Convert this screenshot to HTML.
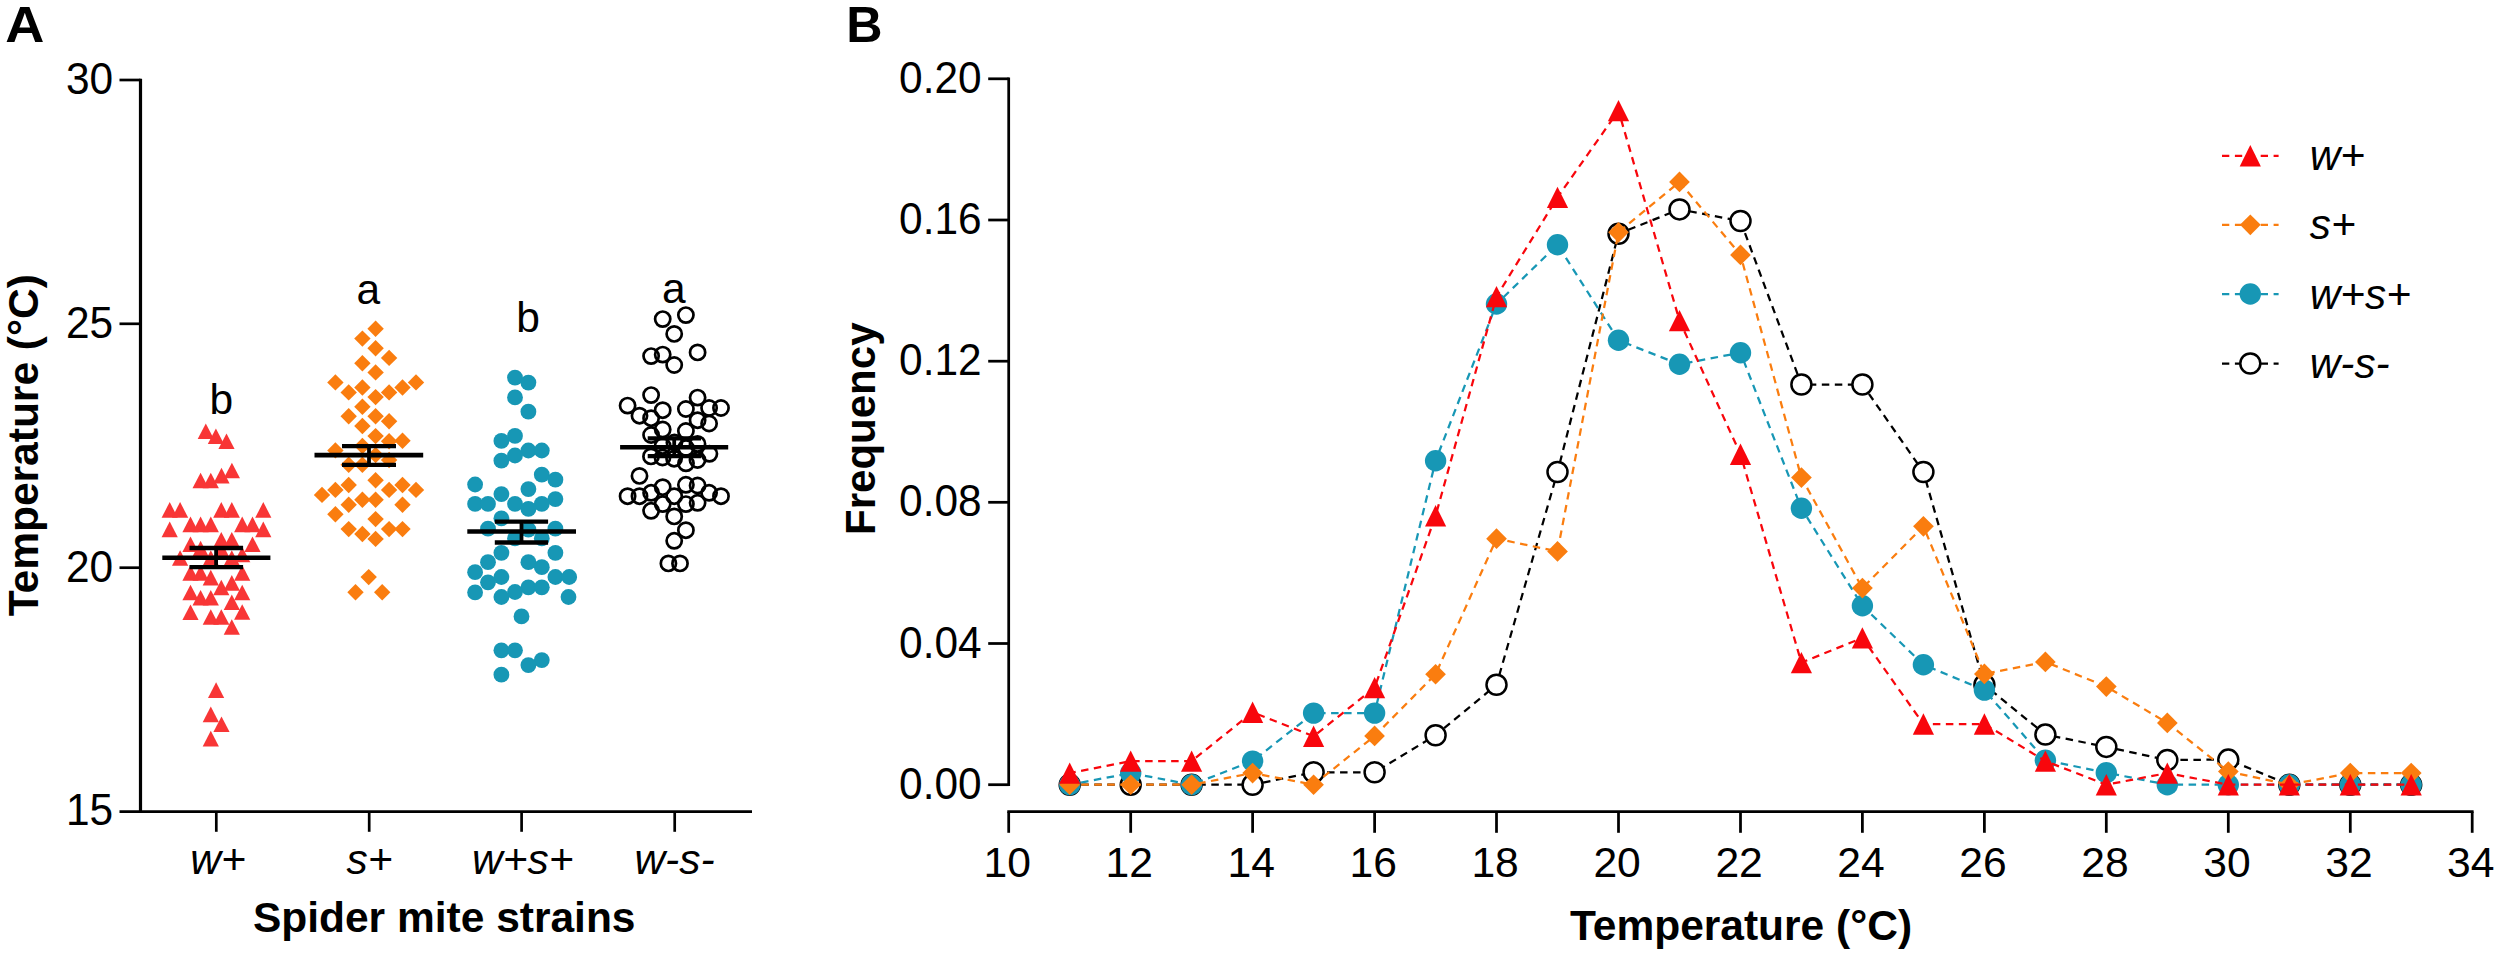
<!DOCTYPE html>
<html lang="en"><head><meta charset="utf-8"><title>Figure</title>
<style>html,body{margin:0;padding:0;background:#fff}svg{display:block}</style></head>
<body>
<svg width="2500" height="957" viewBox="0 0 2500 957" font-family='"Liberation Sans", sans-serif' fill="#000">
<rect width="2500" height="957" fill="#fff"/>
<g id="panelA">
<text x="5.2" y="42.3" font-size="50.6" font-weight="bold" textLength="39.1" lengthAdjust="spacingAndGlyphs">A</text>
<line x1="140.5" y1="78.7" x2="140.5" y2="813.1" stroke="#000" stroke-width="3.20" />
<line x1="119.5" y1="811.7" x2="752.0" y2="811.7" stroke="#000" stroke-width="2.80" />
<line x1="119.5" y1="80.0" x2="140.5" y2="80.0" stroke="#000" stroke-width="2.70" />
<line x1="119.5" y1="323.8" x2="140.5" y2="323.8" stroke="#000" stroke-width="2.70" />
<line x1="119.5" y1="567.7" x2="140.5" y2="567.7" stroke="#000" stroke-width="2.70" />
<text x="113.2" y="93.7" font-size="43.5" text-anchor="end" textLength="47.2" lengthAdjust="spacingAndGlyphs">30</text>
<text x="113.2" y="337.6" font-size="43.5" text-anchor="end" textLength="47.2" lengthAdjust="spacingAndGlyphs">25</text>
<text x="113.2" y="581.6" font-size="43.5" text-anchor="end" textLength="47.2" lengthAdjust="spacingAndGlyphs">20</text>
<text x="113.2" y="824.9" font-size="43.5" text-anchor="end" textLength="47.2" lengthAdjust="spacingAndGlyphs">15</text>
<line x1="216.3" y1="811.7" x2="216.3" y2="831.8" stroke="#000" stroke-width="2.70" />
<line x1="369.2" y1="811.7" x2="369.2" y2="831.8" stroke="#000" stroke-width="2.70" />
<line x1="521.6" y1="811.7" x2="521.6" y2="831.8" stroke="#000" stroke-width="2.70" />
<line x1="674.7" y1="811.7" x2="674.7" y2="831.8" stroke="#000" stroke-width="2.70" />
<text x="218.0" y="874.2" font-size="42.5" font-weight="normal" font-style="italic" text-anchor="middle" >w+</text>
<text x="369.5" y="874.2" font-size="42.5" font-weight="normal" font-style="italic" text-anchor="middle" >s+</text>
<text x="522.8" y="874.2" font-size="42.5" font-weight="normal" font-style="italic" text-anchor="middle" >w+s+</text>
<text x="674.5" y="874.2" font-size="42.5" font-weight="normal" font-style="italic" text-anchor="middle" >w-s-</text>
<text x="444.2" y="932.0" font-size="42.5" font-weight="bold" font-style="normal" text-anchor="middle" >Spider mite strains</text>
<text transform="translate(37.5,445.2) rotate(-90)" font-size="42.5" font-weight="bold" text-anchor="middle">Temperature (°C)</text>
<g id="ptsA">
<polygon points="205.8,423.5 213.9,439.1 197.7,439.1" fill="#F83636"/>
<polygon points="215.9,428.5 224.0,444.1 207.8,444.1" fill="#F83636"/>
<polygon points="226.5,433.4 234.6,449.0 218.4,449.0" fill="#F83636"/>
<polygon points="200.6,472.7 208.7,488.3 192.5,488.3" fill="#F83636"/>
<polygon points="210.8,472.7 218.9,488.3 202.7,488.3" fill="#F83636"/>
<polygon points="221.5,467.8 229.6,483.4 213.4,483.4" fill="#F83636"/>
<polygon points="231.9,462.7 240.0,478.3 223.8,478.3" fill="#F83636"/>
<polygon points="169.7,502.1 177.8,517.7 161.6,517.7" fill="#F83636"/>
<polygon points="180.1,502.1 188.2,517.7 172.0,517.7" fill="#F83636"/>
<polygon points="221.3,502.1 229.4,517.7 213.2,517.7" fill="#F83636"/>
<polygon points="231.8,502.1 239.9,517.7 223.7,517.7" fill="#F83636"/>
<polygon points="263.3,502.1 271.4,517.7 255.2,517.7" fill="#F83636"/>
<polygon points="190.5,516.6 198.6,532.2 182.4,532.2" fill="#F83636"/>
<polygon points="200.6,516.6 208.7,532.2 192.5,532.2" fill="#F83636"/>
<polygon points="210.8,516.6 218.9,532.2 202.7,532.2" fill="#F83636"/>
<polygon points="242.2,516.6 250.3,532.2 234.1,532.2" fill="#F83636"/>
<polygon points="252.5,516.6 260.6,532.2 244.4,532.2" fill="#F83636"/>
<polygon points="169.7,521.6 177.8,537.2 161.6,537.2" fill="#F83636"/>
<polygon points="263.3,521.6 271.4,537.2 255.2,537.2" fill="#F83636"/>
<polygon points="221.3,532.0 229.4,547.6 213.2,547.6" fill="#F83636"/>
<polygon points="231.8,532.0 239.9,547.6 223.7,547.6" fill="#F83636"/>
<polygon points="190.5,536.4 198.6,552.0 182.4,552.0" fill="#F83636"/>
<polygon points="252.5,536.4 260.6,552.0 244.4,552.0" fill="#F83636"/>
<polygon points="200.6,540.8 208.7,556.4 192.5,556.4" fill="#F83636"/>
<polygon points="180.1,550.2 188.2,565.8 172.0,565.8" fill="#F83636"/>
<polygon points="210.8,550.2 218.9,565.8 202.7,565.8" fill="#F83636"/>
<polygon points="231.8,550.2 239.9,565.8 223.7,565.8" fill="#F83636"/>
<polygon points="242.2,546.7 250.3,562.3 234.1,562.3" fill="#F83636"/>
<polygon points="221.3,541.7 229.4,557.3 213.2,557.3" fill="#F83636"/>
<polygon points="190.5,565.1 198.6,580.7 182.4,580.7" fill="#F83636"/>
<polygon points="200.6,565.1 208.7,580.7 192.5,580.7" fill="#F83636"/>
<polygon points="242.2,565.1 250.3,580.7 234.1,580.7" fill="#F83636"/>
<polygon points="210.8,569.8 218.9,585.4 202.7,585.4" fill="#F83636"/>
<polygon points="231.8,575.1 239.9,590.7 223.7,590.7" fill="#F83636"/>
<polygon points="221.3,579.7 229.4,595.3 213.2,595.3" fill="#F83636"/>
<polygon points="190.5,584.7 198.6,600.3 182.4,600.3" fill="#F83636"/>
<polygon points="242.2,584.7 250.3,600.3 234.1,600.3" fill="#F83636"/>
<polygon points="200.6,589.9 208.7,605.5 192.5,605.5" fill="#F83636"/>
<polygon points="210.8,589.9 218.9,605.5 202.7,605.5" fill="#F83636"/>
<polygon points="231.8,594.5 239.9,610.1 223.7,610.1" fill="#F83636"/>
<polygon points="190.5,604.5 198.6,620.1 182.4,620.1" fill="#F83636"/>
<polygon points="242.2,604.2 250.3,619.8 234.1,619.8" fill="#F83636"/>
<polygon points="210.8,609.2 218.9,624.8 202.7,624.8" fill="#F83636"/>
<polygon points="221.3,609.2 229.4,624.8 213.2,624.8" fill="#F83636"/>
<polygon points="231.8,619.2 239.9,634.8 223.7,634.8" fill="#F83636"/>
<polygon points="216.1,682.3 224.2,697.9 208.0,697.9" fill="#F83636"/>
<polygon points="210.8,706.6 218.9,722.2 202.7,722.2" fill="#F83636"/>
<polygon points="221.5,716.4 229.6,732.0 213.4,732.0" fill="#F83636"/>
<polygon points="210.8,730.8 218.9,746.4 202.7,746.4" fill="#F83636"/>
<polygon points="375.6,320.6 383.8,328.8 375.6,337.0 367.4,328.8" fill="#FA7D0F"/>
<polygon points="362.4,330.4 370.6,338.6 362.4,346.8 354.2,338.6" fill="#FA7D0F"/>
<polygon points="375.6,340.0 383.8,348.2 375.6,356.4 367.4,348.2" fill="#FA7D0F"/>
<polygon points="389.1,349.7 397.3,357.9 389.1,366.1 380.9,357.9" fill="#FA7D0F"/>
<polygon points="362.4,355.1 370.6,363.3 362.4,371.5 354.2,363.3" fill="#FA7D0F"/>
<polygon points="375.6,364.2 383.8,372.4 375.6,380.6 367.4,372.4" fill="#FA7D0F"/>
<polygon points="335.4,374.2 343.6,382.4 335.4,390.6 327.2,382.4" fill="#FA7D0F"/>
<polygon points="416.0,374.2 424.2,382.4 416.0,390.6 407.8,382.4" fill="#FA7D0F"/>
<polygon points="362.4,379.3 370.6,387.5 362.4,395.7 354.2,387.5" fill="#FA7D0F"/>
<polygon points="402.5,379.3 410.7,387.5 402.5,395.7 394.3,387.5" fill="#FA7D0F"/>
<polygon points="348.7,384.2 356.9,392.4 348.7,400.6 340.5,392.4" fill="#FA7D0F"/>
<polygon points="389.1,384.2 397.3,392.4 389.1,400.6 380.9,392.4" fill="#FA7D0F"/>
<polygon points="375.6,388.9 383.8,397.1 375.6,405.3 367.4,397.1" fill="#FA7D0F"/>
<polygon points="362.4,398.6 370.6,406.8 362.4,415.0 354.2,406.8" fill="#FA7D0F"/>
<polygon points="348.7,408.1 356.9,416.3 348.7,424.5 340.5,416.3" fill="#FA7D0F"/>
<polygon points="375.6,408.1 383.8,416.3 375.6,424.5 367.4,416.3" fill="#FA7D0F"/>
<polygon points="389.1,413.0 397.3,421.2 389.1,429.4 380.9,421.2" fill="#FA7D0F"/>
<polygon points="362.4,417.8 370.6,426.0 362.4,434.2 354.2,426.0" fill="#FA7D0F"/>
<polygon points="375.6,427.9 383.8,436.1 375.6,444.3 367.4,436.1" fill="#FA7D0F"/>
<polygon points="402.5,432.5 410.7,440.7 402.5,448.9 394.3,440.7" fill="#FA7D0F"/>
<polygon points="389.1,433.1 397.3,441.3 389.1,449.5 380.9,441.3" fill="#FA7D0F"/>
<polygon points="362.4,437.8 370.6,446.0 362.4,454.2 354.2,446.0" fill="#FA7D0F"/>
<polygon points="335.4,442.2 343.6,450.4 335.4,458.6 327.2,450.4" fill="#FA7D0F"/>
<polygon points="348.7,456.6 356.9,464.8 348.7,473.0 340.5,464.8" fill="#FA7D0F"/>
<polygon points="362.4,456.6 370.6,464.8 362.4,473.0 354.2,464.8" fill="#FA7D0F"/>
<polygon points="375.6,446.8 383.8,455.0 375.6,463.2 367.4,455.0" fill="#FA7D0F"/>
<polygon points="389.1,451.8 397.3,460.0 389.1,468.2 380.9,460.0" fill="#FA7D0F"/>
<polygon points="375.6,472.0 383.8,480.2 375.6,488.4 367.4,480.2" fill="#FA7D0F"/>
<polygon points="348.7,476.8 356.9,485.0 348.7,493.2 340.5,485.0" fill="#FA7D0F"/>
<polygon points="402.5,476.8 410.7,485.0 402.5,493.2 394.3,485.0" fill="#FA7D0F"/>
<polygon points="335.4,481.7 343.6,489.9 335.4,498.1 327.2,489.9" fill="#FA7D0F"/>
<polygon points="389.1,481.7 397.3,489.9 389.1,498.1 380.9,489.9" fill="#FA7D0F"/>
<polygon points="416.0,481.7 424.2,489.9 416.0,498.1 407.8,489.9" fill="#FA7D0F"/>
<polygon points="322.0,486.7 330.2,494.9 322.0,503.1 313.8,494.9" fill="#FA7D0F"/>
<polygon points="375.6,491.5 383.8,499.7 375.6,507.9 367.4,499.7" fill="#FA7D0F"/>
<polygon points="362.4,491.5 370.6,499.7 362.4,507.9 354.2,499.7" fill="#FA7D0F"/>
<polygon points="348.7,496.5 356.9,504.7 348.7,512.9 340.5,504.7" fill="#FA7D0F"/>
<polygon points="402.5,496.5 410.7,504.7 402.5,512.9 394.3,504.7" fill="#FA7D0F"/>
<polygon points="335.4,506.1 343.6,514.3 335.4,522.5 327.2,514.3" fill="#FA7D0F"/>
<polygon points="375.6,510.9 383.8,519.1 375.6,527.3 367.4,519.1" fill="#FA7D0F"/>
<polygon points="348.7,520.9 356.9,529.1 348.7,537.3 340.5,529.1" fill="#FA7D0F"/>
<polygon points="389.1,520.9 397.3,529.1 389.1,537.3 380.9,529.1" fill="#FA7D0F"/>
<polygon points="402.5,520.9 410.7,529.1 402.5,537.3 394.3,529.1" fill="#FA7D0F"/>
<polygon points="362.4,525.8 370.6,534.0 362.4,542.2 354.2,534.0" fill="#FA7D0F"/>
<polygon points="375.6,530.7 383.8,538.9 375.6,547.1 367.4,538.9" fill="#FA7D0F"/>
<polygon points="368.7,568.9 376.9,577.1 368.7,585.3 360.5,577.1" fill="#FA7D0F"/>
<polygon points="355.5,584.0 363.7,592.2 355.5,600.4 347.3,592.2" fill="#FA7D0F"/>
<polygon points="382.2,584.0 390.4,592.2 382.2,600.4 374.0,592.2" fill="#FA7D0F"/>
<circle cx="515.0" cy="377.6" r="7.9" fill="#1797B5"/>
<circle cx="528.4" cy="382.6" r="7.9" fill="#1797B5"/>
<circle cx="515.0" cy="397.4" r="7.9" fill="#1797B5"/>
<circle cx="528.4" cy="411.7" r="7.9" fill="#1797B5"/>
<circle cx="515.0" cy="435.9" r="7.9" fill="#1797B5"/>
<circle cx="501.4" cy="440.9" r="7.9" fill="#1797B5"/>
<circle cx="528.4" cy="450.5" r="7.9" fill="#1797B5"/>
<circle cx="541.8" cy="450.5" r="7.9" fill="#1797B5"/>
<circle cx="515.0" cy="455.5" r="7.9" fill="#1797B5"/>
<circle cx="501.4" cy="460.6" r="7.9" fill="#1797B5"/>
<circle cx="541.8" cy="474.7" r="7.9" fill="#1797B5"/>
<circle cx="555.4" cy="479.7" r="7.9" fill="#1797B5"/>
<circle cx="475.1" cy="484.5" r="7.9" fill="#1797B5"/>
<circle cx="528.4" cy="489.1" r="7.9" fill="#1797B5"/>
<circle cx="501.4" cy="494.1" r="7.9" fill="#1797B5"/>
<circle cx="555.4" cy="499.1" r="7.9" fill="#1797B5"/>
<circle cx="475.1" cy="503.9" r="7.9" fill="#1797B5"/>
<circle cx="488.0" cy="503.9" r="7.9" fill="#1797B5"/>
<circle cx="515.0" cy="503.9" r="7.9" fill="#1797B5"/>
<circle cx="541.8" cy="503.9" r="7.9" fill="#1797B5"/>
<circle cx="528.4" cy="508.9" r="7.9" fill="#1797B5"/>
<circle cx="501.4" cy="518.3" r="7.9" fill="#1797B5"/>
<circle cx="488.0" cy="528.7" r="7.9" fill="#1797B5"/>
<circle cx="555.4" cy="528.7" r="7.9" fill="#1797B5"/>
<circle cx="528.4" cy="529.6" r="7.9" fill="#1797B5"/>
<circle cx="515.0" cy="538.4" r="7.9" fill="#1797B5"/>
<circle cx="541.8" cy="538.4" r="7.9" fill="#1797B5"/>
<circle cx="501.4" cy="552.8" r="7.9" fill="#1797B5"/>
<circle cx="555.4" cy="552.8" r="7.9" fill="#1797B5"/>
<circle cx="488.0" cy="562.2" r="7.9" fill="#1797B5"/>
<circle cx="528.4" cy="562.2" r="7.9" fill="#1797B5"/>
<circle cx="541.8" cy="567.2" r="7.9" fill="#1797B5"/>
<circle cx="475.1" cy="572.2" r="7.9" fill="#1797B5"/>
<circle cx="501.4" cy="577.0" r="7.9" fill="#1797B5"/>
<circle cx="555.4" cy="577.0" r="7.9" fill="#1797B5"/>
<circle cx="569.2" cy="577.0" r="7.9" fill="#1797B5"/>
<circle cx="488.0" cy="582.3" r="7.9" fill="#1797B5"/>
<circle cx="528.4" cy="587.3" r="7.9" fill="#1797B5"/>
<circle cx="541.8" cy="587.3" r="7.9" fill="#1797B5"/>
<circle cx="515.0" cy="592.0" r="7.9" fill="#1797B5"/>
<circle cx="475.1" cy="592.4" r="7.9" fill="#1797B5"/>
<circle cx="501.4" cy="597.0" r="7.9" fill="#1797B5"/>
<circle cx="568.5" cy="597.0" r="7.9" fill="#1797B5"/>
<circle cx="521.5" cy="616.4" r="7.9" fill="#1797B5"/>
<circle cx="501.4" cy="650.3" r="7.9" fill="#1797B5"/>
<circle cx="515.0" cy="650.3" r="7.9" fill="#1797B5"/>
<circle cx="541.8" cy="660.1" r="7.9" fill="#1797B5"/>
<circle cx="528.4" cy="665.1" r="7.9" fill="#1797B5"/>
<circle cx="501.4" cy="674.7" r="7.9" fill="#1797B5"/>
<circle cx="662.7" cy="319.1" r="7.6" fill="none" stroke="#000" stroke-width="2.7"/>
<circle cx="685.9" cy="315.1" r="7.6" fill="none" stroke="#000" stroke-width="2.7"/>
<circle cx="674.2" cy="333.9" r="7.6" fill="none" stroke="#000" stroke-width="2.7"/>
<circle cx="697.6" cy="352.4" r="7.6" fill="none" stroke="#000" stroke-width="2.7"/>
<circle cx="651.1" cy="356.1" r="7.6" fill="none" stroke="#000" stroke-width="2.7"/>
<circle cx="662.7" cy="354.6" r="7.6" fill="none" stroke="#000" stroke-width="2.7"/>
<circle cx="674.2" cy="365.0" r="7.6" fill="none" stroke="#000" stroke-width="2.7"/>
<circle cx="651.1" cy="395.1" r="7.6" fill="none" stroke="#000" stroke-width="2.7"/>
<circle cx="697.6" cy="397.6" r="7.6" fill="none" stroke="#000" stroke-width="2.7"/>
<circle cx="627.6" cy="405.6" r="7.6" fill="none" stroke="#000" stroke-width="2.7"/>
<circle cx="662.7" cy="410.2" r="7.6" fill="none" stroke="#000" stroke-width="2.7"/>
<circle cx="685.9" cy="409.0" r="7.6" fill="none" stroke="#000" stroke-width="2.7"/>
<circle cx="709.1" cy="408.0" r="7.6" fill="none" stroke="#000" stroke-width="2.7"/>
<circle cx="721.0" cy="408.0" r="7.6" fill="none" stroke="#000" stroke-width="2.7"/>
<circle cx="639.5" cy="415.7" r="7.6" fill="none" stroke="#000" stroke-width="2.7"/>
<circle cx="651.1" cy="418.2" r="7.6" fill="none" stroke="#000" stroke-width="2.7"/>
<circle cx="697.6" cy="420.2" r="7.6" fill="none" stroke="#000" stroke-width="2.7"/>
<circle cx="709.1" cy="423.5" r="7.6" fill="none" stroke="#000" stroke-width="2.7"/>
<circle cx="662.7" cy="429.5" r="7.6" fill="none" stroke="#000" stroke-width="2.7"/>
<circle cx="685.9" cy="431.0" r="7.6" fill="none" stroke="#000" stroke-width="2.7"/>
<circle cx="651.1" cy="435.0" r="7.6" fill="none" stroke="#000" stroke-width="2.7"/>
<circle cx="697.5" cy="443.9" r="7.6" fill="none" stroke="#000" stroke-width="2.7"/>
<circle cx="674.4" cy="442.5" r="7.6" fill="none" stroke="#000" stroke-width="2.7"/>
<circle cx="662.7" cy="446.0" r="7.6" fill="none" stroke="#000" stroke-width="2.7"/>
<circle cx="686.0" cy="448.0" r="7.6" fill="none" stroke="#000" stroke-width="2.7"/>
<circle cx="651.0" cy="456.4" r="7.6" fill="none" stroke="#000" stroke-width="2.7"/>
<circle cx="662.5" cy="457.5" r="7.6" fill="none" stroke="#000" stroke-width="2.7"/>
<circle cx="674.1" cy="458.7" r="7.6" fill="none" stroke="#000" stroke-width="2.7"/>
<circle cx="686.0" cy="463.3" r="7.6" fill="none" stroke="#000" stroke-width="2.7"/>
<circle cx="697.5" cy="460.0" r="7.6" fill="none" stroke="#000" stroke-width="2.7"/>
<circle cx="709.4" cy="453.8" r="7.6" fill="none" stroke="#000" stroke-width="2.7"/>
<circle cx="639.5" cy="475.9" r="7.6" fill="none" stroke="#000" stroke-width="2.7"/>
<circle cx="662.7" cy="487.2" r="7.6" fill="none" stroke="#000" stroke-width="2.7"/>
<circle cx="685.9" cy="484.8" r="7.6" fill="none" stroke="#000" stroke-width="2.7"/>
<circle cx="697.6" cy="485.5" r="7.6" fill="none" stroke="#000" stroke-width="2.7"/>
<circle cx="651.1" cy="492.8" r="7.6" fill="none" stroke="#000" stroke-width="2.7"/>
<circle cx="709.1" cy="492.8" r="7.6" fill="none" stroke="#000" stroke-width="2.7"/>
<circle cx="627.6" cy="496.2" r="7.6" fill="none" stroke="#000" stroke-width="2.7"/>
<circle cx="639.5" cy="496.2" r="7.6" fill="none" stroke="#000" stroke-width="2.7"/>
<circle cx="674.2" cy="496.2" r="7.6" fill="none" stroke="#000" stroke-width="2.7"/>
<circle cx="721.0" cy="496.2" r="7.6" fill="none" stroke="#000" stroke-width="2.7"/>
<circle cx="662.7" cy="504.1" r="7.6" fill="none" stroke="#000" stroke-width="2.7"/>
<circle cx="685.9" cy="504.1" r="7.6" fill="none" stroke="#000" stroke-width="2.7"/>
<circle cx="697.6" cy="502.8" r="7.6" fill="none" stroke="#000" stroke-width="2.7"/>
<circle cx="651.1" cy="510.8" r="7.6" fill="none" stroke="#000" stroke-width="2.7"/>
<circle cx="674.2" cy="516.4" r="7.6" fill="none" stroke="#000" stroke-width="2.7"/>
<circle cx="685.9" cy="530.2" r="7.6" fill="none" stroke="#000" stroke-width="2.7"/>
<circle cx="674.2" cy="540.8" r="7.6" fill="none" stroke="#000" stroke-width="2.7"/>
<circle cx="668.4" cy="563.4" r="7.6" fill="none" stroke="#000" stroke-width="2.7"/>
<circle cx="680.0" cy="563.4" r="7.6" fill="none" stroke="#000" stroke-width="2.7"/>
</g>
<g id="barsA">
<line x1="162.3" y1="557.7" x2="270.4" y2="557.7" stroke="#000" stroke-width="4.60" />
<line x1="189.5" y1="548.0" x2="243.1" y2="548.0" stroke="#000" stroke-width="4.30" />
<line x1="189.5" y1="567.1" x2="243.1" y2="567.1" stroke="#000" stroke-width="4.30" />
<line x1="216.1" y1="548.0" x2="216.1" y2="567.1" stroke="#000" stroke-width="3.80" />
<line x1="314.5" y1="455.1" x2="423.2" y2="455.1" stroke="#000" stroke-width="4.60" />
<line x1="342.0" y1="446.1" x2="396.0" y2="446.1" stroke="#000" stroke-width="4.30" />
<line x1="342.0" y1="464.8" x2="396.0" y2="464.8" stroke="#000" stroke-width="4.30" />
<line x1="369.0" y1="446.1" x2="369.0" y2="464.8" stroke="#000" stroke-width="3.80" />
<line x1="467.3" y1="531.5" x2="576.0" y2="531.5" stroke="#000" stroke-width="4.60" />
<line x1="494.8" y1="521.7" x2="548.1" y2="521.7" stroke="#000" stroke-width="4.30" />
<line x1="494.8" y1="542.5" x2="548.1" y2="542.5" stroke="#000" stroke-width="4.30" />
<line x1="521.5" y1="521.7" x2="521.5" y2="542.5" stroke="#000" stroke-width="3.80" />
<line x1="620.1" y1="447.3" x2="728.2" y2="447.3" stroke="#000" stroke-width="4.60" />
<line x1="647.7" y1="438.3" x2="701.0" y2="438.3" stroke="#000" stroke-width="4.30" />
<line x1="647.7" y1="456.1" x2="701.0" y2="456.1" stroke="#000" stroke-width="4.30" />
<line x1="674.2" y1="438.3" x2="674.2" y2="456.1" stroke="#000" stroke-width="3.80" />
</g>
<text x="221.4" y="414.4" font-size="42.5" font-weight="normal" font-style="normal" text-anchor="middle" >b</text>
<text x="368.2" y="303.8" font-size="42.5" font-weight="normal" font-style="normal" text-anchor="middle" >a</text>
<text x="528.0" y="331.8" font-size="42.5" font-weight="normal" font-style="normal" text-anchor="middle" >b</text>
<text x="673.9" y="303.4" font-size="42.5" font-weight="normal" font-style="normal" text-anchor="middle" >a</text>
</g>
<g id="panelB">
<text x="846.3" y="42.0" font-size="50.3" font-weight="bold" textLength="36.3" lengthAdjust="spacingAndGlyphs">B</text>
<line x1="1008.7" y1="77.4" x2="1008.7" y2="786.1" stroke="#000" stroke-width="2.75" />
<line x1="988.2" y1="784.7" x2="1008.7" y2="784.7" stroke="#000" stroke-width="2.75" />
<text x="981.6" y="798.8" font-size="43.5" text-anchor="end" textLength="82.5" lengthAdjust="spacingAndGlyphs">0.00</text>
<line x1="988.2" y1="643.5" x2="1008.7" y2="643.5" stroke="#000" stroke-width="2.75" />
<text x="981.6" y="657.6" font-size="43.5" text-anchor="end" textLength="82.5" lengthAdjust="spacingAndGlyphs">0.04</text>
<line x1="988.2" y1="502.3" x2="1008.7" y2="502.3" stroke="#000" stroke-width="2.75" />
<text x="981.6" y="516.4" font-size="43.5" text-anchor="end" textLength="82.5" lengthAdjust="spacingAndGlyphs">0.08</text>
<line x1="988.2" y1="361.2" x2="1008.7" y2="361.2" stroke="#000" stroke-width="2.75" />
<text x="981.6" y="375.3" font-size="43.5" text-anchor="end" textLength="82.5" lengthAdjust="spacingAndGlyphs">0.12</text>
<line x1="988.2" y1="220.0" x2="1008.7" y2="220.0" stroke="#000" stroke-width="2.75" />
<text x="981.6" y="234.1" font-size="43.5" text-anchor="end" textLength="82.5" lengthAdjust="spacingAndGlyphs">0.16</text>
<line x1="988.2" y1="78.8" x2="1008.7" y2="78.8" stroke="#000" stroke-width="2.75" />
<text x="981.6" y="92.9" font-size="43.5" text-anchor="end" textLength="82.5" lengthAdjust="spacingAndGlyphs">0.20</text>
<line x1="1007.3" y1="811.7" x2="2473.6" y2="811.7" stroke="#000" stroke-width="2.75" />
<line x1="1008.7" y1="811.7" x2="1008.7" y2="832.8" stroke="#000" stroke-width="2.75" />
<text x="1007.3" y="877.4" font-size="43.3" text-anchor="middle" textLength="47.4" lengthAdjust="spacingAndGlyphs">10</text>
<line x1="1130.7" y1="811.7" x2="1130.7" y2="832.8" stroke="#000" stroke-width="2.75" />
<text x="1129.3" y="877.4" font-size="43.3" text-anchor="middle" textLength="47.4" lengthAdjust="spacingAndGlyphs">12</text>
<line x1="1252.6" y1="811.7" x2="1252.6" y2="832.8" stroke="#000" stroke-width="2.75" />
<text x="1251.2" y="877.4" font-size="43.3" text-anchor="middle" textLength="47.4" lengthAdjust="spacingAndGlyphs">14</text>
<line x1="1374.6" y1="811.7" x2="1374.6" y2="832.8" stroke="#000" stroke-width="2.75" />
<text x="1373.2" y="877.4" font-size="43.3" text-anchor="middle" textLength="47.4" lengthAdjust="spacingAndGlyphs">16</text>
<line x1="1496.5" y1="811.7" x2="1496.5" y2="832.8" stroke="#000" stroke-width="2.75" />
<text x="1495.1" y="877.4" font-size="43.3" text-anchor="middle" textLength="47.4" lengthAdjust="spacingAndGlyphs">18</text>
<line x1="1618.5" y1="811.7" x2="1618.5" y2="832.8" stroke="#000" stroke-width="2.75" />
<text x="1617.1" y="877.4" font-size="43.3" text-anchor="middle" textLength="47.4" lengthAdjust="spacingAndGlyphs">20</text>
<line x1="1740.5" y1="811.7" x2="1740.5" y2="832.8" stroke="#000" stroke-width="2.75" />
<text x="1739.1" y="877.4" font-size="43.3" text-anchor="middle" textLength="47.4" lengthAdjust="spacingAndGlyphs">22</text>
<line x1="1862.4" y1="811.7" x2="1862.4" y2="832.8" stroke="#000" stroke-width="2.75" />
<text x="1861.0" y="877.4" font-size="43.3" text-anchor="middle" textLength="47.4" lengthAdjust="spacingAndGlyphs">24</text>
<line x1="1984.4" y1="811.7" x2="1984.4" y2="832.8" stroke="#000" stroke-width="2.75" />
<text x="1983.0" y="877.4" font-size="43.3" text-anchor="middle" textLength="47.4" lengthAdjust="spacingAndGlyphs">26</text>
<line x1="2106.3" y1="811.7" x2="2106.3" y2="832.8" stroke="#000" stroke-width="2.75" />
<text x="2104.9" y="877.4" font-size="43.3" text-anchor="middle" textLength="47.4" lengthAdjust="spacingAndGlyphs">28</text>
<line x1="2228.3" y1="811.7" x2="2228.3" y2="832.8" stroke="#000" stroke-width="2.75" />
<text x="2226.9" y="877.4" font-size="43.3" text-anchor="middle" textLength="47.4" lengthAdjust="spacingAndGlyphs">30</text>
<line x1="2350.3" y1="811.7" x2="2350.3" y2="832.8" stroke="#000" stroke-width="2.75" />
<text x="2348.9" y="877.4" font-size="43.3" text-anchor="middle" textLength="47.4" lengthAdjust="spacingAndGlyphs">32</text>
<line x1="2472.2" y1="811.7" x2="2472.2" y2="832.8" stroke="#000" stroke-width="2.75" />
<text x="2470.8" y="877.4" font-size="43.3" text-anchor="middle" textLength="47.4" lengthAdjust="spacingAndGlyphs">34</text>
<text x="1741.0" y="939.6" font-size="42.5" font-weight="bold" font-style="normal" text-anchor="middle" >Temperature (°C)</text>
<text transform="translate(874.8,428.7) rotate(-90)" font-size="42" font-weight="bold" text-anchor="middle">Frequency</text>
<polyline points="1069.7,784.7 1130.7,784.7 1191.6,784.7 1252.6,784.7 1313.6,772.3 1374.6,772.3 1435.6,735.3 1496.5,684.8 1557.5,472.0 1618.5,233.7 1679.5,209.4 1740.5,221.0 1801.4,384.5 1862.4,384.5 1923.4,472.0 1984.4,684.8 2045.4,734.6 2106.3,746.9 2167.3,760.0 2228.3,759.6 2289.3,784.7 2350.3,784.7 2411.2,784.7" fill="none" stroke="#000000" stroke-width="2.25" stroke-dasharray="7.5 5.5" stroke-dashoffset="1.4"/>
<circle cx="1069.7" cy="784.7" r="10.0" fill="#fff" stroke="#000" stroke-width="2.5"/>
<circle cx="1130.7" cy="784.7" r="10.0" fill="#fff" stroke="#000" stroke-width="2.5"/>
<circle cx="1191.6" cy="784.7" r="10.0" fill="#fff" stroke="#000" stroke-width="2.5"/>
<circle cx="1252.6" cy="784.7" r="10.0" fill="#fff" stroke="#000" stroke-width="2.5"/>
<circle cx="1313.6" cy="772.3" r="10.0" fill="#fff" stroke="#000" stroke-width="2.5"/>
<circle cx="1374.6" cy="772.3" r="10.0" fill="#fff" stroke="#000" stroke-width="2.5"/>
<circle cx="1435.6" cy="735.3" r="10.0" fill="#fff" stroke="#000" stroke-width="2.5"/>
<circle cx="1496.5" cy="684.8" r="10.0" fill="#fff" stroke="#000" stroke-width="2.5"/>
<circle cx="1557.5" cy="472.0" r="10.0" fill="#fff" stroke="#000" stroke-width="2.5"/>
<circle cx="1618.5" cy="233.7" r="10.0" fill="#fff" stroke="#000" stroke-width="2.5"/>
<circle cx="1679.5" cy="209.4" r="10.0" fill="#fff" stroke="#000" stroke-width="2.5"/>
<circle cx="1740.5" cy="221.0" r="10.0" fill="#fff" stroke="#000" stroke-width="2.5"/>
<circle cx="1801.4" cy="384.5" r="10.0" fill="#fff" stroke="#000" stroke-width="2.5"/>
<circle cx="1862.4" cy="384.5" r="10.0" fill="#fff" stroke="#000" stroke-width="2.5"/>
<circle cx="1923.4" cy="472.0" r="10.0" fill="#fff" stroke="#000" stroke-width="2.5"/>
<circle cx="1984.4" cy="684.8" r="10.0" fill="#fff" stroke="#000" stroke-width="2.5"/>
<circle cx="2045.4" cy="734.6" r="10.0" fill="#fff" stroke="#000" stroke-width="2.5"/>
<circle cx="2106.3" cy="746.9" r="10.0" fill="#fff" stroke="#000" stroke-width="2.5"/>
<circle cx="2167.3" cy="760.0" r="10.0" fill="#fff" stroke="#000" stroke-width="2.5"/>
<circle cx="2228.3" cy="759.6" r="10.0" fill="#fff" stroke="#000" stroke-width="2.5"/>
<circle cx="2289.3" cy="784.7" r="10.0" fill="#fff" stroke="#000" stroke-width="2.5"/>
<circle cx="2350.3" cy="784.7" r="10.0" fill="#fff" stroke="#000" stroke-width="2.5"/>
<circle cx="2411.2" cy="784.7" r="10.0" fill="#fff" stroke="#000" stroke-width="2.5"/>
<polyline points="1069.7,784.7 1130.7,773.1 1191.6,784.7 1252.6,761.1 1313.6,713.1 1374.6,713.1 1435.6,460.7 1496.5,304.0 1557.5,244.7 1618.5,340.3 1679.5,364.3 1740.5,352.7 1801.4,508.3 1862.4,605.8 1923.4,664.7 1984.4,690.1 2045.4,760.3 2106.3,772.7 2167.3,784.7 2228.3,784.7 2289.3,784.7 2350.3,784.7 2411.2,784.7" fill="none" stroke="#1797B5" stroke-width="2.25" stroke-dasharray="7.5 5.5" stroke-dashoffset="1.4"/>
<circle cx="1069.7" cy="784.7" r="10.7" fill="#1797B5"/>
<circle cx="1130.7" cy="773.1" r="10.7" fill="#1797B5"/>
<circle cx="1191.6" cy="784.7" r="10.7" fill="#1797B5"/>
<circle cx="1252.6" cy="761.1" r="10.7" fill="#1797B5"/>
<circle cx="1313.6" cy="713.1" r="10.7" fill="#1797B5"/>
<circle cx="1374.6" cy="713.1" r="10.7" fill="#1797B5"/>
<circle cx="1435.6" cy="460.7" r="10.7" fill="#1797B5"/>
<circle cx="1496.5" cy="304.0" r="10.7" fill="#1797B5"/>
<circle cx="1557.5" cy="244.7" r="10.7" fill="#1797B5"/>
<circle cx="1618.5" cy="340.3" r="10.7" fill="#1797B5"/>
<circle cx="1679.5" cy="364.3" r="10.7" fill="#1797B5"/>
<circle cx="1740.5" cy="352.7" r="10.7" fill="#1797B5"/>
<circle cx="1801.4" cy="508.3" r="10.7" fill="#1797B5"/>
<circle cx="1862.4" cy="605.8" r="10.7" fill="#1797B5"/>
<circle cx="1923.4" cy="664.7" r="10.7" fill="#1797B5"/>
<circle cx="1984.4" cy="690.1" r="10.7" fill="#1797B5"/>
<circle cx="2045.4" cy="760.3" r="10.7" fill="#1797B5"/>
<circle cx="2106.3" cy="772.7" r="10.7" fill="#1797B5"/>
<circle cx="2167.3" cy="784.7" r="10.7" fill="#1797B5"/>
<circle cx="2228.3" cy="784.7" r="10.7" fill="#1797B5"/>
<circle cx="2289.3" cy="784.7" r="10.7" fill="#1797B5"/>
<circle cx="2350.3" cy="784.7" r="10.7" fill="#1797B5"/>
<circle cx="2411.2" cy="784.7" r="10.7" fill="#1797B5"/>
<polyline points="1069.7,784.7 1130.7,784.7 1191.6,784.7 1252.6,773.1 1313.6,784.7 1374.6,736.0 1435.6,674.2 1496.5,538.7 1557.5,551.4 1618.5,232.3 1679.5,181.9 1740.5,254.9 1801.4,477.6 1862.4,588.1 1923.4,526.3 1984.4,673.9 2045.4,661.9 2106.3,686.6 2167.3,722.9 2228.3,771.6 2289.3,784.7 2350.3,773.1 2411.2,773.1" fill="none" stroke="#FA7D0F" stroke-width="2.25" stroke-dasharray="7.5 5.5" stroke-dashoffset="1.4"/>
<polygon points="1069.7,774.4 1080.0,784.7 1069.7,795.1 1059.3,784.7" fill="#FA7D0F"/>
<polygon points="1130.7,774.4 1141.0,784.7 1130.7,795.1 1120.3,784.7" fill="#FA7D0F"/>
<polygon points="1191.6,774.4 1202.0,784.7 1191.6,795.1 1181.3,784.7" fill="#FA7D0F"/>
<polygon points="1252.6,762.7 1263.0,773.1 1252.6,783.4 1242.3,773.1" fill="#FA7D0F"/>
<polygon points="1313.6,774.4 1323.9,784.7 1313.6,795.1 1303.2,784.7" fill="#FA7D0F"/>
<polygon points="1374.6,725.6 1384.9,736.0 1374.6,746.3 1364.2,736.0" fill="#FA7D0F"/>
<polygon points="1435.6,663.9 1445.9,674.2 1435.6,684.6 1425.2,674.2" fill="#FA7D0F"/>
<polygon points="1496.5,528.3 1506.9,538.7 1496.5,549.0 1486.2,538.7" fill="#FA7D0F"/>
<polygon points="1557.5,541.1 1567.9,551.4 1557.5,561.8 1547.2,551.4" fill="#FA7D0F"/>
<polygon points="1618.5,222.0 1628.8,232.3 1618.5,242.7 1608.2,232.3" fill="#FA7D0F"/>
<polygon points="1679.5,171.5 1689.8,181.9 1679.5,192.2 1669.1,181.9" fill="#FA7D0F"/>
<polygon points="1740.5,244.6 1750.8,254.9 1740.5,265.3 1730.1,254.9" fill="#FA7D0F"/>
<polygon points="1801.4,467.3 1811.8,477.6 1801.4,488.0 1791.1,477.6" fill="#FA7D0F"/>
<polygon points="1862.4,577.8 1872.8,588.1 1862.4,598.5 1852.1,588.1" fill="#FA7D0F"/>
<polygon points="1923.4,516.0 1933.8,526.3 1923.4,536.7 1913.1,526.3" fill="#FA7D0F"/>
<polygon points="1984.4,663.5 1994.7,673.9 1984.4,684.2 1974.0,673.9" fill="#FA7D0F"/>
<polygon points="2045.4,651.5 2055.7,661.9 2045.4,672.2 2035.0,661.9" fill="#FA7D0F"/>
<polygon points="2106.3,676.2 2116.7,686.6 2106.3,696.9 2096.0,686.6" fill="#FA7D0F"/>
<polygon points="2167.3,712.6 2177.7,722.9 2167.3,733.3 2157.0,722.9" fill="#FA7D0F"/>
<polygon points="2228.3,761.3 2238.7,771.6 2228.3,782.0 2218.0,771.6" fill="#FA7D0F"/>
<polygon points="2289.3,774.4 2299.6,784.7 2289.3,795.1 2278.9,784.7" fill="#FA7D0F"/>
<polygon points="2350.3,762.7 2360.6,773.1 2350.3,783.4 2339.9,773.1" fill="#FA7D0F"/>
<polygon points="2411.2,762.7 2421.6,773.1 2411.2,783.4 2400.9,773.1" fill="#FA7D0F"/>
<polyline points="1069.7,773.1 1130.7,761.1 1191.6,761.1 1252.6,712.3 1313.6,736.3 1374.6,687.6 1435.6,515.8 1496.5,296.6 1557.5,197.4 1618.5,110.6 1679.5,320.6 1740.5,454.3 1801.4,662.6 1862.4,637.9 1923.4,724.0 1984.4,724.0 2045.4,761.1 2106.3,784.7 2167.3,773.1 2228.3,784.7 2289.3,784.7 2350.3,784.7 2411.2,784.7" fill="none" stroke="#F8060C" stroke-width="2.25" stroke-dasharray="7.5 5.5" stroke-dashoffset="1.4"/>
<polygon points="1069.7,762.4 1080.3,783.8 1059.1,783.8" fill="#F8060C"/>
<polygon points="1130.7,750.4 1141.3,771.8 1120.1,771.8" fill="#F8060C"/>
<polygon points="1191.6,750.4 1202.2,771.8 1181.0,771.8" fill="#F8060C"/>
<polygon points="1252.6,701.6 1263.2,723.0 1242.0,723.0" fill="#F8060C"/>
<polygon points="1313.6,725.6 1324.2,747.0 1303.0,747.0" fill="#F8060C"/>
<polygon points="1374.6,676.9 1385.2,698.3 1364.0,698.3" fill="#F8060C"/>
<polygon points="1435.6,505.1 1446.2,526.5 1425.0,526.5" fill="#F8060C"/>
<polygon points="1496.5,285.9 1507.1,307.3 1485.9,307.3" fill="#F8060C"/>
<polygon points="1557.5,186.7 1568.1,208.1 1546.9,208.1" fill="#F8060C"/>
<polygon points="1618.5,99.9 1629.1,121.3 1607.9,121.3" fill="#F8060C"/>
<polygon points="1679.5,309.9 1690.1,331.3 1668.9,331.3" fill="#F8060C"/>
<polygon points="1740.5,443.6 1751.1,465.0 1729.9,465.0" fill="#F8060C"/>
<polygon points="1801.4,651.9 1812.0,673.3 1790.8,673.3" fill="#F8060C"/>
<polygon points="1862.4,627.2 1873.0,648.6 1851.8,648.6" fill="#F8060C"/>
<polygon points="1923.4,713.3 1934.0,734.7 1912.8,734.7" fill="#F8060C"/>
<polygon points="1984.4,713.3 1995.0,734.7 1973.8,734.7" fill="#F8060C"/>
<polygon points="2045.4,750.4 2056.0,771.8 2034.8,771.8" fill="#F8060C"/>
<polygon points="2106.3,774.0 2116.9,795.4 2095.7,795.4" fill="#F8060C"/>
<polygon points="2167.3,762.4 2177.9,783.8 2156.7,783.8" fill="#F8060C"/>
<polygon points="2228.3,774.0 2238.9,795.4 2217.7,795.4" fill="#F8060C"/>
<polygon points="2289.3,774.0 2299.9,795.4 2278.7,795.4" fill="#F8060C"/>
<polygon points="2350.3,774.0 2360.9,795.4 2339.7,795.4" fill="#F8060C"/>
<polygon points="2411.2,774.0 2421.8,795.4 2400.6,795.4" fill="#F8060C"/>
<line x1="2222.0" y1="155.8" x2="2278.6" y2="155.8" stroke="#F8060C" stroke-width="2.25" stroke-dasharray="7.3 5.6"/>
<polygon points="2250.3,145.1 2260.9,166.5 2239.7,166.5" fill="#F8060C"/>
<text x="2309.8" y="169.7" font-size="42.3" font-weight="normal" font-style="italic" text-anchor="start" >w+</text>
<line x1="2222.0" y1="224.8" x2="2278.6" y2="224.8" stroke="#FA7D0F" stroke-width="2.25" stroke-dasharray="7.3 5.6"/>
<polygon points="2250.3,214.5 2260.7,224.8 2250.3,235.2 2240.0,224.8" fill="#FA7D0F"/>
<text x="2309.8" y="238.9" font-size="42.3" font-weight="normal" font-style="italic" text-anchor="start" >s+</text>
<line x1="2222.0" y1="294.0" x2="2278.6" y2="294.0" stroke="#1797B5" stroke-width="2.25" stroke-dasharray="7.3 5.6"/>
<circle cx="2250.3" cy="294.0" r="10.7" fill="#1797B5"/>
<text x="2309.8" y="308.5" font-size="42.3" font-weight="normal" font-style="italic" text-anchor="start" >w+s+</text>
<line x1="2222.0" y1="363.5" x2="2278.6" y2="363.5" stroke="#000000" stroke-width="2.25" stroke-dasharray="7.3 5.6"/>
<circle cx="2250.3" cy="363.5" r="10.0" fill="#fff" stroke="#000" stroke-width="2.5"/>
<text x="2309.8" y="378.1" font-size="42.3" font-weight="normal" font-style="italic" text-anchor="start" >w-s-</text>
</g>
</svg>
</body></html>
